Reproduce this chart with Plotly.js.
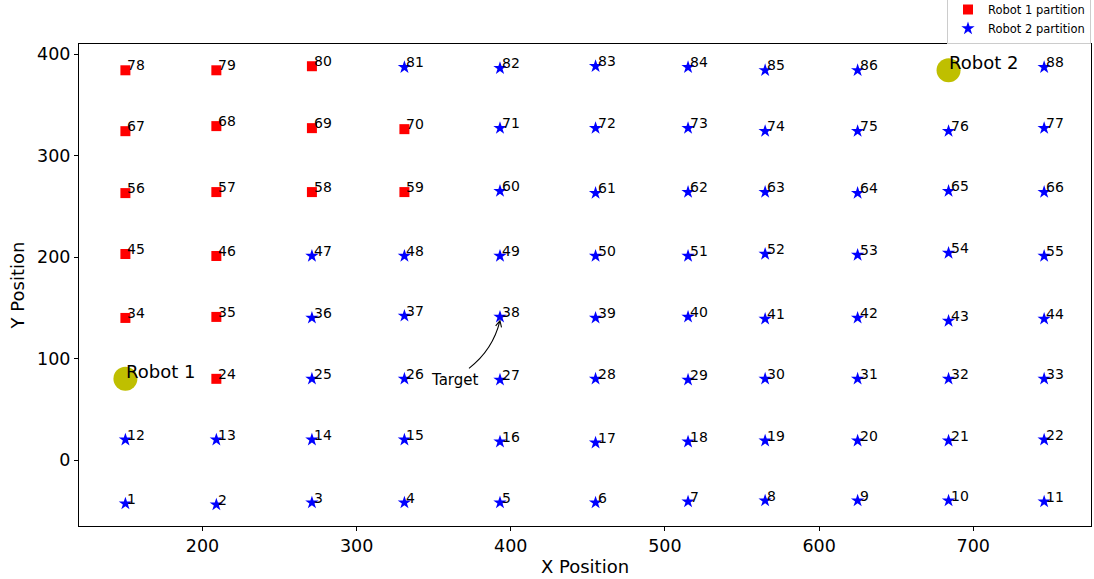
<!DOCTYPE html>
<html><head><meta charset="utf-8">
<script src="https://cdn.plot.ly/plotly-3.0.1.min.js"></script>
<style>html,body{margin:0;padding:0;background:#fff}</style>
</head><body><div id="chart" style="width:1094px;height:579px"></div>
<script>
// ---- data ----
const pointLabels = [
  1,2,3,4,5,6,7,8,9,10,11,
  12,13,14,15,16,17,18,19,20,21,22,
  24,25,26,27,28,29,30,31,32,33,
  34,35,36,37,38,39,40,41,42,43,44,
  45,46,47,48,49,50,51,52,53,54,55,
  56,57,58,59,60,61,62,63,64,65,66,
  67,68,69,70,71,72,73,74,75,76,77,
  78,79,80,81,82,83,84,85,86,88
];
const pointX = [
  150,209,271,331,393,455,515,565,625,684,746,
  150,209,271,331,393,455,515,565,625,684,746,
  209,271,331,393,455,515,565,625,684,746,
  150,209,271,331,393,455,515,565,625,684,746,
  150,209,271,331,393,455,515,565,625,684,746,
  150,209,271,331,393,455,515,565,625,684,746,
  150,209,271,331,393,455,515,565,625,684,746,
  150,209,271,331,393,455,515,565,625,746
];
const pointY = [
  -43,-44,-42,-42,-42,-42,-41,-40,-40,-40,-41,
  20,20,20,20,18,17,18,19,19,19,20,
  80,80,80,79,80,79,80,80,80,80,
  140,141,140,142,141,140,141,139,140,137,139,
  203,201,201,201,201,201,201,203,202,204,201,
  263,264,264,264,265,263,264,264,263,265,264,
  324,329,327,326,327,327,327,324,324,324,327,
  384,384,388,387,386,388,387,384,384,387
];
const robot1Partition = [24,34,35,45,46,56,57,58,59,67,68,69,70,78,79,80];
const seriesNames = ['Robot 1 partition', 'Robot 2 partition'];
const robotNames = ['Robot 1', 'Robot 2'];
const robotX = [150, 684];
const robotY = [80, 384];
const targetText = 'Target';
const targetLabel = 38;

// ---- layout constants ----
const W = 1094, H = 579;
const M = {l: 79, r: 3, t: 44, b: 53, autoexpand: false};
const xr = [119.9, 776.4], yr = [-65, 409.9];
const sx = (W - M.l - M.r) / (xr[1] - xr[0]);
const sy = (H - M.t - M.b) / (yr[1] - yr[0]);
function off(x, y, dxPx, dyPx) { return [x + dxPx / sx, y - dyPx / sy]; }

const FONT = 'DejaVu Sans, Arial, sans-serif';

const r1x = [], r1y = [], r2x = [], r2y = [];
pointLabels.forEach((lab, i) => {
  if (robot1Partition.includes(lab)) { r1x.push(pointX[i]); r1y.push(pointY[i]); }
  else { r2x.push(pointX[i]); r2y.push(pointY[i]); }
});

const traces = [
  {x: r1x, y: r1y, type: 'scatter', mode: 'markers', name: seriesNames[0],
   marker: {symbol: 'square', size: 10, color: '#ff0000'}, hoverinfo: 'skip'},
  {x: r2x, y: r2y, type: 'scatter', mode: 'markers', name: seriesNames[1],
   marker: {symbol: 'star', size: 10, color: '#0000ff'}, hoverinfo: 'skip'},
  {x: robotX, y: robotY, type: 'scatter', mode: 'markers', showlegend: false,
   marker: {symbol: 'circle', size: 24, color: '#bfbf00'}, hoverinfo: 'skip'}
];

const annotations = [];
pointLabels.forEach((lab, i) => {
  annotations.push({x: pointX[i], y: pointY[i], xref: 'x', yref: 'y', text: String(lab),
    showarrow: false, xanchor: 'left', yanchor: 'bottom', xshift: 0, yshift: -5,
    font: {family: FONT, size: 14, color: '#000'}});
});
robotNames.forEach((nm, i) => {
  annotations.push({x: robotX[i], y: robotY[i], xref: 'x', yref: 'y', text: nm,
    showarrow: false, xanchor: 'left', yanchor: 'bottom', xshift: -1.5, yshift: -5,
    font: {family: FONT, size: 18, color: '#000'}});
});
const ti = pointLabels.indexOf(targetLabel);
const tx = pointX[ti], ty = pointY[ti];
annotations.push({x: tx, y: ty, xref: 'x', yref: 'y', text: targetText, showarrow: false,
  xanchor: 'center', yanchor: 'middle', xshift: -45.4, yshift: -62.6,
  font: {family: FONT, size: 15, color: '#000'}});

// curved arrow (quadratic), pixel offsets relative to the target point
const tailP = [-31, 51.4], ctrlP = [-7.1, 33.1], headP = [0, 3.8];
let dx = headP[0] - ctrlP[0], dy = headP[1] - ctrlP[1];
const dl = Math.hypot(dx, dy); dx /= dl; dy /= dl;
const px = -dy, py = dx;
const baseP = [headP[0] - 6 * dx, headP[1] - 6 * dy];
const w1P = [baseP[0] + 3 * px, baseP[1] + 3 * py];
const w2P = [baseP[0] - 3 * px, baseP[1] - 3 * py];
const P = p => off(tx, ty, p[0], p[1]).join(',');
const arrowPath = 'M' + P(tailP) + ' Q' + P(ctrlP) + ' ' + P(headP) +
  ' M' + P(w1P) + ' L' + P(headP) + ' L' + P(w2P);

const layout = {
  width: W, height: H, margin: M,
  paper_bgcolor: '#fff', plot_bgcolor: '#fff',
  font: {family: FONT, color: '#000'},
  showlegend: true,
  legend: {x: 1, xanchor: 'right', y: 1, yanchor: 'bottom',
    bgcolor: 'rgba(255,255,255,0.8)', bordercolor: '#cccccc', borderwidth: 1,
    font: {family: FONT, size: 11.5, color: '#000'}},
  xaxis: {range: xr, showgrid: false, zeroline: false, showline: true, mirror: true,
    linecolor: '#000', linewidth: 1, ticks: 'outside', ticklen: 4, tickcolor: '#000',
    tick0: 0, dtick: 100, tickfont: {family: FONT, size: 17.5, color: '#000'},
    automargin: false,
    title: {text: 'X Position', font: {family: FONT, size: 18, color: '#000'}, standoff: 5}},
  yaxis: {range: yr, showgrid: false, zeroline: false, showline: true, mirror: true,
    linecolor: '#000', linewidth: 1, ticks: 'outside', ticklen: 4, tickcolor: '#000',
    tick0: 0, dtick: 100, tickfont: {family: FONT, size: 17.5, color: '#000'},
    automargin: false,
    title: {text: 'Y Position', font: {family: FONT, size: 18, color: '#000'}, standoff: 7}},
  annotations: annotations,
  shapes: [{type: 'path', xref: 'x', yref: 'y', path: arrowPath,
    line: {color: '#000', width: 1.1}}]
};

Plotly.newPlot('chart', traces, layout, {displayModeBar: false, staticPlot: true});
</script>
</body></html>
